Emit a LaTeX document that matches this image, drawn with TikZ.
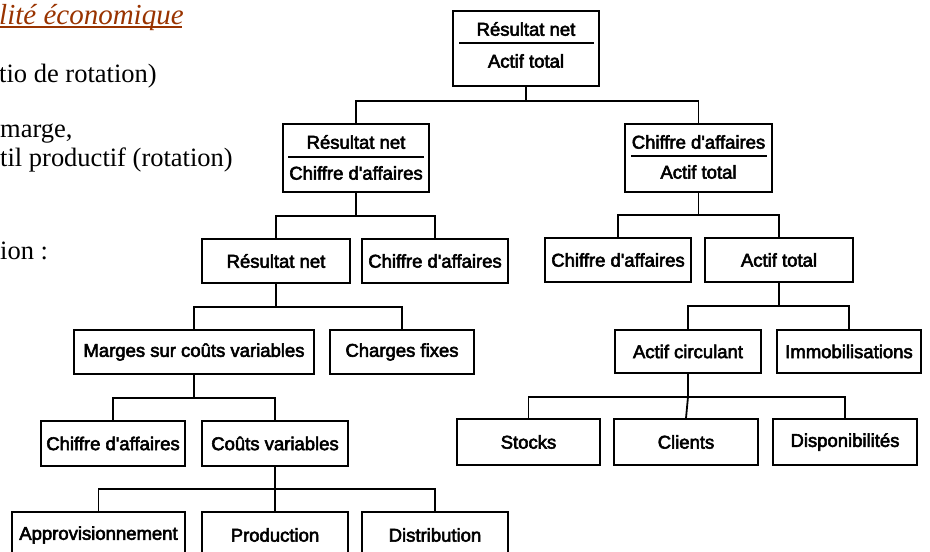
\documentclass[tikz,border=0pt]{standalone}
\usepackage{fontspec}
\newfontfamily\boxfont{Liberation Sans}
\newfontfamily\txtfont{Liberation Serif}
\newcommand\heavy[1]{\special{pdf:literal direct 2 Tr 0.55 w}#1\special{pdf:literal direct 0 Tr}}
\definecolor{titlebrown}{RGB}{153,51,0}
\begin{document}
\begin{tikzpicture}[x=1pt,y=-1pt,
  bx/.style={draw,line width=1.8pt,inner sep=0pt,font=\boxfont\fontsize{18.5}{20}\selectfont},
  lbl/.style={inner sep=0pt,font=\boxfont\fontsize{18.5}{20}\selectfont},
  side/.style={inner sep=0pt,anchor=base west,font=\txtfont\fontsize{26.5}{30}\selectfont},
  cn/.style={line width=1.8pt}]
\useasboundingbox (0,0) rectangle (930,552);
\clip (0,0) rectangle (930,552);
% side text
\node[side,font=\txtfont\itshape\fontsize{29}{32}\selectfont,text=titlebrown] (t0) at (-1,24) {lité économique};
\draw[titlebrown,line width=1.5pt] (0,27) coordinate (u1) -- (182,27) coordinate (u2);
\node[side] (t1) at (-1,82) {tio de rotation)};
\node[side] (t2) at (0,137) {marge,};
\node[side] (t3) at (0,166) {til productif (rotation)};
\node[side] (t4) at (0,259) {ion :};
% fraction boxes
\node[bx,minimum width=146pt,minimum height=75pt] (A) at (526,48.5) {};
\node[lbl] (A1) at (526,29) {\heavy{Résultat net}};
\node[lbl] (A2) at (526,61) {\heavy{Actif total}};
\draw[cn] (459,43) coordinate (ab1) -- (594,43) coordinate (ab2);
\node[bx,minimum width=146pt,minimum height=68pt] (B) at (356,158) {};
\node[lbl] (B1) at (356,142) {\heavy{Résultat net}};
\node[lbl] (B2) at (356,173) {\heavy{Chiffre d'affaires}};
\draw[cn] (288,157) coordinate (bb1) -- (424,157) coordinate (bb2);
\node[bx,minimum width=147pt,minimum height=68pt] (C) at (698.5,158) {};
\node[lbl] (C1) at (698.5,142) {\heavy{Chiffre d'affaires}};
\node[lbl] (C2) at (698.5,172) {\heavy{Actif total}};
\draw[cn] (631,156) coordinate (cb1) -- (767,156) coordinate (cb2);
% single boxes
\node[bx,minimum width=148pt,minimum height=44pt] (D) at (276,261) {\heavy{Résultat net}};
\node[bx,minimum width=146pt,minimum height=44pt] (E) at (435,261) {\heavy{Chiffre d'affaires}};
\node[bx,minimum width=146pt,minimum height=44pt] (F) at (618,260) {\heavy{Chiffre d'affaires}};
\node[bx,minimum width=148pt,minimum height=44pt] (G) at (779,260) {\heavy{Actif total}};
\node[bx,minimum width=240pt,minimum height=44pt] (H) at (194,352) {\heavy{Marges sur coûts variables}};
\node[bx,minimum width=144pt,minimum height=44pt] (I) at (402,352) {\heavy{Charges fixes}};
\node[bx,minimum width=146pt,minimum height=43pt] (J) at (688,351.5) {\heavy{Actif circulant}};
\node[bx,minimum width=144pt,minimum height=43pt] (K) at (849,351.5) {\heavy{Immobilisations}};
\node[bx,minimum width=144pt,minimum height=45pt] (L) at (113,443.5) {\heavy{Chiffre d'affaires}};
\node[bx,minimum width=146pt,minimum height=45pt] (M) at (275,443.5) {\heavy{Coûts variables}};
\node[bx,minimum width=143pt,minimum height=46pt] (N) at (528.5,442) {\heavy{Stocks}};
\node[bx,minimum width=144pt,minimum height=46pt] (O) at (686,442) {\heavy{Clients}};
\node[bx,minimum width=144pt,minimum height=46pt] (P) at (845,442) {\heavy{Disponibilités}};
\node[bx,minimum width=173pt,minimum height=46pt] (Q) at (98.5,535) {\heavy{Approvisionnement}};
\node[bx,minimum width=146pt,minimum height=46pt] (R) at (275,535) {\heavy{Production}};
\node[bx,minimum width=146pt,minimum height=46pt] (S) at (435,535) {\heavy{Distribution}};
% connectors
\coordinate (ja) at (526,101);
\draw[cn] (A.south) -- (ja);
\draw[cn] (B.north) |- (ja) -| (C.north);
\coordinate (jb) at (356,216);
\draw[cn] (B.south) -- (jb);
\draw[cn] (D.north) |- (jb) -| (E.north);
\coordinate (jc) at (698.5,215);
\draw[cn] (C.south) -- (jc);
\draw[cn] (F.north) |- (jc) -| (G.north);
\coordinate (jd) at (276,307);
\draw[cn] (D.south) -- (jd);
\draw[cn] (H.north) |- (jd) -| (I.north);
\coordinate (jg) at (779,306);
\draw[cn] (G.south) -- (jg);
\draw[cn] (J.north) |- (jg) -| (K.north);
\coordinate (jh) at (194,398);
\draw[cn] (H.south) -- (jh);
\draw[cn] (L.north) |- (jh) -| (M.north);
\coordinate (jj) at (688,397);
\draw[cn] (J.south) -- (jj);
\draw[cn] (N.north) |- (jj) -| (P.north);
\draw[cn] (jj) -- (O.north);
\coordinate (jm) at (275,489);
\draw[cn] (M.south) -- (jm);
\draw[cn] (Q.north) |- (jm) -| (S.north);
\draw[cn] (jm) -- (R.north);
\end{tikzpicture}
\end{document}
